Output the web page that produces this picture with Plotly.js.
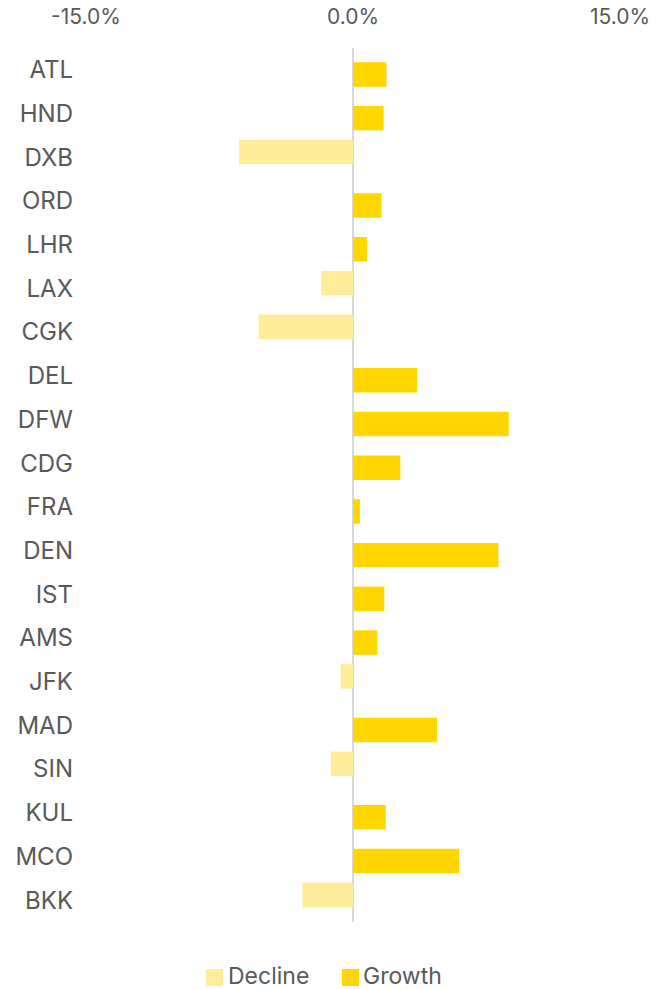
<!DOCTYPE html>
<html>
<head>
<meta charset="utf-8">
<script src="https://cdn.plot.ly/plotly-3.0.1.min.js"></script>
<style>html,body{margin:0;padding:0;background:#fff;}#chart{width:663px;height:989px;}</style>
</head>
<body>
<div id="chart"></div>
<script>
const airports = ["ATL","HND","DXB","ORD","LHR","LAX","CGK","DEL","DFW","CDG","FRA","DEN","IST","AMS","JFK","MAD","SIN","KUL","MCO","BKK"];
const growthPct = [1.88, 1.72, null, 1.6, 0.79, null, null, 3.6, 8.75, 2.66, 0.39, 8.17, 1.76, 1.37, null, 4.72, null, 1.84, 5.96, null];
const declinePct = [null, null, -6.4, null, null, -1.78, -5.31, null, null, null, null, null, null, null, -0.69, null, -1.25, null, null, -2.84];
const tickValues = [-15, 0, 15];
const tickLabels = ["-15.0%", "0.0%", "15.0%"];
const seriesNames = ["Decline", "Growth"];

const font = "Inter, 'Liberation Sans', sans-serif";
const textColor = "#595959";
const declineColor = "#FFEC99";
const growthColor = "#FFD600";

const traces = [
  {
    type: "bar", orientation: "h", name: seriesNames[0],
    y: airports, x: declinePct,
    width: 0.56, offset: -0.40,
    marker: {color: declineColor},
    hoverinfo: "skip", showlegend: false
  },
  {
    type: "bar", orientation: "h", name: seriesNames[1],
    y: airports, x: growthPct,
    width: 0.56, offset: -0.175,
    marker: {color: growthColor},
    hoverinfo: "skip", showlegend: false
  }
];

// custom legend (paper coords: plot area x 86..620, y 48..922)
const W = 534, H = 874;
const px = x => (x - 86) / W;
const py = y => (922 - y) / H;

const legendShapes = [
  {type: "rect", xref: "paper", yref: "paper", x0: px(206), x1: px(223), y0: py(969), y1: py(986),
   fillcolor: declineColor, line: {width: 0}},
  {type: "rect", xref: "paper", yref: "paper", x0: px(342), x1: px(359), y0: py(969), y1: py(986),
   fillcolor: growthColor, line: {width: 0}}
];
const legendAnnotations = [
  {xref: "paper", yref: "paper", x: px(227), y: py(976), xanchor: "left", yanchor: "middle",
   text: seriesNames[0], showarrow: false, borderpad: 0,
   font: {family: font, size: 23, color: textColor}},
  {xref: "paper", yref: "paper", x: px(362), y: py(976), xanchor: "left", yanchor: "middle",
   text: seriesNames[1], showarrow: false, borderpad: 0,
   font: {family: font, size: 23, color: textColor}}
];

const layout = {
  width: 663, height: 989,
  margin: {l: 86, r: 43, t: 48, b: 67},
  paper_bgcolor: "#ffffff", plot_bgcolor: "#ffffff",
  font: {family: font, color: textColor, size: 22},
  barmode: "overlay",
  showlegend: false,
  shapes: legendShapes,
  annotations: legendAnnotations,
  xaxis: {
    side: "top", range: [-15, 15], tickvals: tickValues, ticktext: tickLabels,
    showgrid: false, zeroline: true, zerolinecolor: "#d9d9d9", zerolinewidth: 2,
    showline: false, ticks: "", ticklabelstandoff: 19,
    tickfont: {family: font, size: 21, color: textColor},
    fixedrange: true
  },
  yaxis: {
    type: "category", autorange: "reversed", categoryorder: "array", categoryarray: airports,
    showgrid: false, zeroline: false, showline: false, ticks: "",
    ticklabelstandoff: 12,
    tickfont: {family: font, size: 24, color: textColor},
    fixedrange: true
  }
};

Plotly.newPlot("chart", traces, layout, {displayModeBar: false, staticPlot: true});
</script>
</body>
</html>
